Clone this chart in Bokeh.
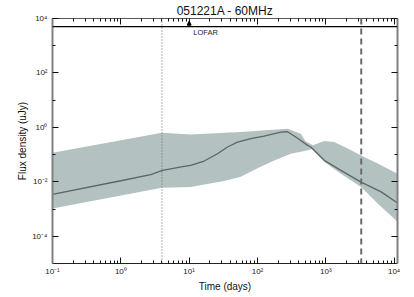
from bokeh.plotting import figure
from bokeh.models import FixedTicker, LogAxis, Span, Arrow, NormalHead, Label, Range1d
from bokeh.embed import file_html
from bokeh.resources import INLINE

# model light curve (time in days, flux density in uJy)
line_t = [0.1, 1.0, 2.74, 4.06, 8.41, 10.5, 16.6, 26.0, 36.4, 51.0, 80.0, 125, 220, 275, 387, 543,
          603, 951, 1660, 3280, 6460, 11200]
line_f = [0.00347, 0.01096, 0.01837, 0.02642, 0.03715, 0.04036, 0.05808, 0.1079, 0.1905, 0.2884,
          0.3846, 0.4786, 0.6730, 0.6918, 0.3981, 0.2188, 0.1905, 0.06166, 0.0263, 0.00977,
          0.00427, 0.00166]

# uncertainty band
upper_t = [0.1, 4.0, 10.5, 57, 275, 432, 500, 646, 951, 1330, 2090, 3280, 5750, 11200]
upper_f = [0.1175, 0.631, 0.553, 0.676, 0.891, 0.589, 0.316, 0.219, 0.316, 0.288, 0.166, 0.0933,
           0.0468, 0.0200]
lower_t = [0.1, 4.0, 10.5, 32.4, 56, 100, 176, 309, 484, 631, 951, 1660, 3280, 5750, 11200]
lower_f = [0.001047, 0.00603, 0.00646, 0.01072, 0.01514, 0.0316, 0.0603, 0.1084, 0.1349, 0.1585,
           0.0537, 0.01995, 0.00646, 0.001585, 0.000339]

x_ticks = [0.1, 1, 10, 100, 1000, 10000]
x_labels = ["10⁻¹", "10⁰", "10¹", "10²", "10³", "10⁴"]
y_ticks = [1e-4, 1e-2, 1, 1e2, 1e4]
y_minor = [1e-3, 1e-1, 1e1, 1e3]
y_labels = ["10⁻⁴", "10⁻²", "10⁰", "10²", "10⁴"]

lofar_flux = 5000
lofar_time = 10
dotted_time = 4.0
dashed_time = 3300

x_minor = [m * 10.0 ** e for e in range(-1, 4) for m in range(2, 10)]

p = figure(width=410, height=294, x_axis_type="log", y_axis_type="log",
           x_range=Range1d(0.1, 11200), y_range=Range1d(1e-5, 1e4),
           output_backend="svg", toolbar_location=None,
           title="051221A - 60MHz",
           min_border_left=52, min_border_right=13, min_border_top=0, min_border_bottom=0)
p.title.align = "center"
p.title.text_font = "Liberation Sans"
p.title.text_font_size = "12px"
p.title.text_font_style = "normal"
p.title.text_color = "#111111"
p.title.standoff = 2
p.xgrid.visible = False
p.ygrid.visible = False
p.outline_line_color = None
p.background_fill_color = "white"
p.border_fill_color = "white"

band_x = upper_t + lower_t[::-1]
band_y = upper_f + lower_f[::-1]
p.patch(band_x, band_y, fill_color="#b3c2c1", line_color=None)
p.line(line_t, line_f, line_color="#5c6666", line_width=1.3)

p.add_layout(Span(location=dotted_time, dimension="height", line_color="#666666",
                  line_width=1, line_dash="1 2"))
p.add_layout(Span(location=dashed_time, dimension="height", line_color="#6a6a6a",
                  line_width=2, line_dash="6 4"))
p.add_layout(Span(location=lofar_flux, dimension="width", line_color="black", line_width=1.3))
p.add_layout(Arrow(end=NormalHead(size=4, fill_color="black", line_color="black"),
                   x_start=lofar_time, y_start=lofar_flux, x_end=lofar_time, y_end=lofar_flux * 1.6,
                   line_color="black", line_width=1))
p.add_layout(Label(x=lofar_time * 1.15, y=lofar_flux, text="LOFAR", y_offset=-10,
                   text_font="Liberation Sans", text_font_size="7.5px", text_color="#222222"))


def style(ax, ticks, labels, minor, line_color, line_width, show_labels):
    ax.ticker = FixedTicker(ticks=ticks, minor_ticks=minor)
    ax.major_tick_in = 6
    ax.major_tick_out = 0
    ax.minor_tick_in = 3
    ax.minor_tick_out = 0
    ax.axis_line_color = line_color
    ax.axis_line_width = line_width
    ax.major_tick_line_color = "#111111"
    ax.major_tick_line_width = 1
    ax.minor_tick_line_color = "#111111"
    ax.major_label_overrides = {t: l for t, l in zip(ticks, labels)}
    ax.major_label_text_font = "Liberation Sans"
    if show_labels:
        ax.major_label_text_font_size = "8px"
        ax.major_label_text_color = "#222222"
        ax.major_label_standoff = 3
        ax.axis_label_text_font = "Liberation Sans"
        ax.axis_label_text_font_size = "10px"
        ax.axis_label_text_font_style = "normal"
        ax.axis_label_text_color = "#111111"
        ax.axis_label_standoff = 2
    else:
        ax.major_label_text_font_size = "1px"
        ax.major_label_text_color = None
        ax.major_label_standoff = 0


p.xaxis.axis_label = "Time (days)"
p.yaxis.axis_label = "Flux density (uJy)"
style(p.xaxis[0], x_ticks, x_labels, x_minor, "#222222", 1, True)
style(p.yaxis[0], y_ticks, y_labels, y_minor, "#808080", 2, True)
p.yaxis[0].major_label_orientation = "horizontal"
p.yaxis[0].major_label_standoff = 5
p.yaxis[0].axis_label_standoff = 1

top = LogAxis()
style(top, x_ticks, x_labels, x_minor, "#555555", 1, False)
p.add_layout(top, "above")
right = LogAxis()
style(right, y_ticks, y_labels, y_minor, "#808080", 2, False)
p.add_layout(right, "right")

open("out.html", "w").write(file_html(p, INLINE))
